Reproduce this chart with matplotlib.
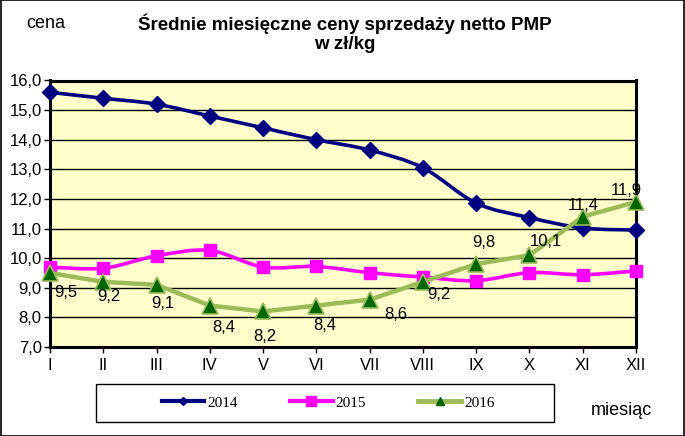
import numpy as np
import matplotlib
matplotlib.use('Agg')
import matplotlib.pyplot as plt
from matplotlib.path import Path
from matplotlib.patches import PathPatch, Rectangle
from matplotlib.lines import Line2D
from matplotlib.ticker import FuncFormatter

plt.rcParams['font.family'] = ['Liberation Sans', 'DejaVu Sans']

months = ['I', 'II', 'III', 'IV', 'V', 'VI', 'VII', 'VIII', 'IX', 'X', 'XI', 'XII']
p2014 = [15.6, 15.4, 15.2, 14.8, 14.4, 14.0, 13.65, 13.05, 11.86, 11.37, 11.02, 10.95]
p2015 = [9.70, 9.66, 10.08, 10.26, 9.70, 9.72, 9.51, 9.36, 9.24, 9.51, 9.44, 9.57]
p2016 = [9.5, 9.2, 9.1, 8.4, 8.2, 8.4, 8.6, 9.2, 9.8, 10.1, 11.4, 11.9]
series_names = ['2014', '2015', '2016']

# label offsets for 2016 values (pixels)
lab_off = [(16, -20), (6, -15), (6, -19), (14, -22), (2, -25), (8, -20),
           (26, -15), (16, -13), (8, 22), (16, 14), (1, 11), (-10, 11)]

W, H = 685, 436
fig = plt.figure(figsize=(W / 100, H / 100), dpi=100)
fig.patch.set_facecolor('white')

def fx(px):
    return px / W

def fy(py):
    return 1 - py / H

# outer frame
fig.add_artist(Rectangle((fx(0.5), fy(435.5)), fx(684) - fx(0.5), fy(0.5) - fy(435.5),
                         transform=fig.transFigure, fill=False, ec='black', lw=1.2))

ax = fig.add_axes([fx(50), fy(347), fx(636) - fx(50), fy(80.5) - fy(347)])
ax.set_facecolor('#FFFFCC')
x = np.arange(len(months))


def smooth(xs, ys):
    # bezier segments like excel smoothed line
    pts = np.column_stack([xs, ys]).astype(float)
    n = len(pts)
    verts = [pts[0]]
    codes = [Path.MOVETO]
    for i in range(n - 1):
        p0 = pts[i - 1] if i > 0 else pts[i]
        p1 = pts[i]
        p2 = pts[i + 1]
        p3 = pts[i + 2] if i + 2 < n else pts[i + 1]
        c1 = p1 + (p2 - p0) / 6.
        c2 = p2 - (p3 - p1) / 6.
        verts += [c1, c2, p2]
        codes += [Path.CURVE4] * 3
    return Path(verts, codes)


ax.add_patch(PathPatch(smooth(x, p2014), fill=False, ec='#000080', lw=2.6,
                       capstyle='round', joinstyle='round', zorder=3))
ax.plot(x, p2014, ls='none', marker='D', ms=8.5, color='#000080', zorder=4, clip_on=False)

ax.add_patch(PathPatch(smooth(x, p2015), fill=False, ec='#FF00FF', lw=2.6,
                       capstyle='round', joinstyle='round', zorder=3))
ax.plot(x, p2015, ls='none', marker='s', ms=8, color='#FF00FF', zorder=4, clip_on=False)

ax.plot(x, p2016, color='#9BBB59', lw=3.2, marker='^', ms=11, mfc='#006600',
        mec='#9BBB59', mew=1.2, zorder=5, clip_on=False)

for i, v in enumerate(p2016):
    ax.annotate(('%.1f' % v).replace('.', ','), (x[i], v), xytext=lab_off[i],
                textcoords='offset pixels', ha='center', va='center',
                fontsize=12, color='black', zorder=6)

ax.set_xlim(0, 11)
ax.set_ylim(7, 16)
ax.set_yticks(np.arange(7, 16.1, 1))
ax.yaxis.set_major_formatter(FuncFormatter(lambda v, p: ('%.1f' % v).replace('.', ',')))
ax.set_xticks(x)
ax.set_xticklabels(months)
ax.grid(axis='y', color='black', lw=1)
ax.set_axisbelow(True)
for s in ax.spines.values():
    s.set_linewidth(2.2)
    s.set_color('black')
ax.tick_params(axis='both', labelsize=12, direction='out', length=4, width=1, colors='black')
ax.tick_params(axis='x', pad=4)
ax.tick_params(axis='y', pad=2)

fig.text(fx(345), fy(24), 'Średnie miesięczne ceny sprzedaży netto PMP', ha='center', va='center',
         fontsize=13.5, fontweight='bold')
fig.text(fx(345), fy(44), 'w zł/kg', ha='center', va='center', fontsize=13.5, fontweight='bold')
fig.text(fx(46), fy(24), 'cena', ha='center', va='center', fontsize=13)
fig.text(fx(621), fy(410), 'miesiąc', ha='center', va='center', fontsize=13)

# legend
fig.add_artist(Rectangle((fx(95.5), fy(422)), fx(554) - fx(95.5), fy(384) - fy(422),
                         transform=fig.transFigure, fill=False, ec='black', lw=1))
handles = [
    Line2D([], [], color='#000080', lw=3, marker='D', ms=4.5),
    Line2D([], [], color='#FF00FF', lw=3, marker='s', ms=7),
    Line2D([], [], color='#9BBB59', lw=3.5, marker='^', ms=6, mfc='#006600', mec='#006600'),
]
fig.legend(handles, series_names, loc='center', bbox_to_anchor=(fx(328), fy(403)), ncol=3,
           frameon=False, handlelength=2.8, handletextpad=0.2, columnspacing=3.4,
           prop={'family': 'Liberation Serif', 'size': 11})

fig.savefig('out.png', dpi=100)
